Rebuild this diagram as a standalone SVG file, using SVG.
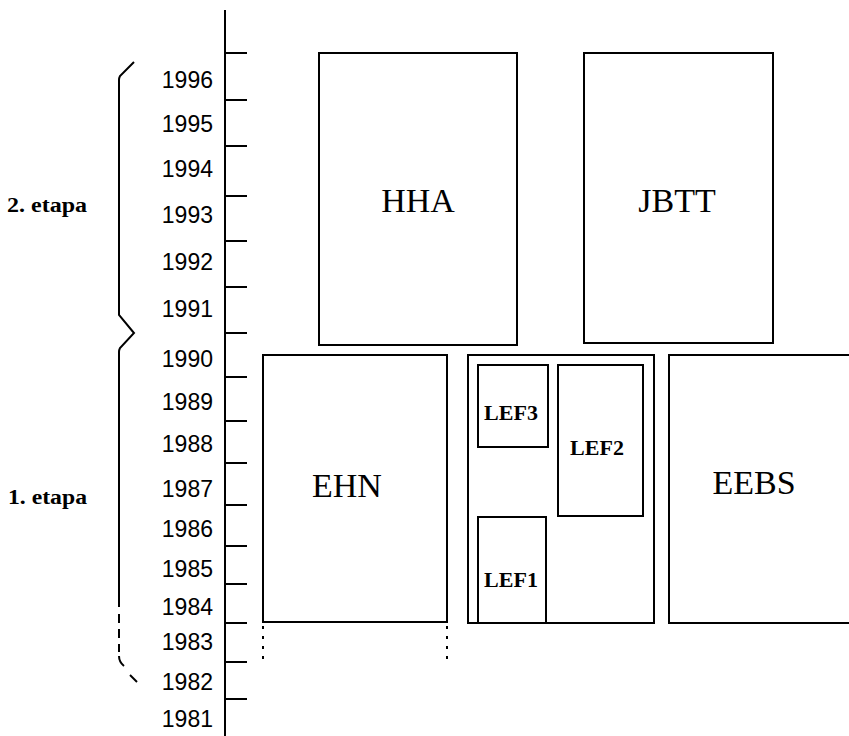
<svg xmlns="http://www.w3.org/2000/svg" width="849" height="736" viewBox="0 0 849 736">
<style>
.bx{fill:none;stroke:#000;stroke-width:2}
.ln{fill:none;stroke:#000;stroke-width:2}
.yr{font-family:"Liberation Sans",Arial,sans-serif;font-size:23px;text-anchor:end;fill:#000}
.big{font-family:"Liberation Serif","Times New Roman",serif;font-size:34px;text-anchor:middle;fill:#000}
.sm{font-family:"Liberation Serif","Times New Roman",serif;font-size:22px;font-weight:bold;text-anchor:middle;fill:#000}
.et{font-family:"Liberation Serif","Times New Roman",serif;font-size:20px;font-weight:bold;fill:#000}
</style>
<rect width="849" height="736" fill="#fff"/>
<g id="axis">
<line class="ln" x1="225" y1="10" x2="225" y2="736"/>
<path class="ln" d="M225,53H247M225,100H247M225,146H247M225,196H247M225,241H247M225,287H247M225,333H247M225,377H247M225,421H247M225,463H247M225,505H247M225,546H247M225,584H247M225,623H247M225,662H247M225,699H247"/>
<text class="yr" x="213" y="88">1996</text>
<text class="yr" x="213" y="132">1995</text>
<text class="yr" x="213" y="177">1994</text>
<text class="yr" x="213" y="223">1993</text>
<text class="yr" x="213" y="270">1992</text>
<text class="yr" x="213" y="317">1991</text>
<text class="yr" x="213" y="367">1990</text>
<text class="yr" x="213" y="410">1989</text>
<text class="yr" x="213" y="452">1988</text>
<text class="yr" x="213" y="497">1987</text>
<text class="yr" x="213" y="537">1986</text>
<text class="yr" x="213" y="577">1985</text>
<text class="yr" x="213" y="615">1984</text>
<text class="yr" x="213" y="650">1983</text>
<text class="yr" x="213" y="690">1982</text>
<text class="yr" x="213" y="727">1981</text>
</g>
<g id="braces">
<path class="ln" d="M134,62 L120,76 Q119,78 119,80 L119,315 L134,333 L120,348 Q119,350 119,352 L119,607"/>
<path class="ln" d="M119,614 V652" stroke-dasharray="9,6"/>
<path class="ln" d="M119,656 Q119,662 124,666"/>
<path class="ln" d="M130,675 L137,682"/>
<text class="et" x="7" y="212" textLength="80" lengthAdjust="spacingAndGlyphs">2. etapa</text>
<text class="et" x="8" y="504" textLength="79" lengthAdjust="spacingAndGlyphs">1. etapa</text>
</g>
<g id="HHA">
<rect class="bx" x="319" y="53" width="198" height="292"/>
<text class="big" x="418" y="212">HHA</text>
</g>
<g id="JBTT">
<rect class="bx" x="584" y="53" width="189" height="290"/>
<text class="big" x="677" y="212">JBTT</text>
</g>
<g id="EHN">
<rect class="bx" x="263" y="355" width="184" height="267"/>
<text class="big" x="347" y="497">EHN</text>
<path class="ln" d="M263,626V660M447,626V660" stroke-dasharray="3,7"/>
</g>
<g id="LEF">
<rect class="bx" x="468" y="355" width="186" height="268"/>
</g>
<g id="LEF3">
<rect class="bx" x="478" y="365" width="70" height="82"/>
<text class="sm" x="511" y="420">LEF3</text>
</g>
<g id="LEF2">
<rect class="bx" x="558" y="365" width="85" height="151"/>
<text class="sm" x="597" y="455">LEF2</text>
</g>
<g id="LEF1">
<path class="bx" d="M478,623V517H546V623"/>
<text class="sm" x="511" y="587">LEF1</text>
</g>
<g id="EEBS">
<path class="bx" d="M849,355H669V623H849"/>
<text class="big" x="754" y="494">EEBS</text>
</g>
</svg>
